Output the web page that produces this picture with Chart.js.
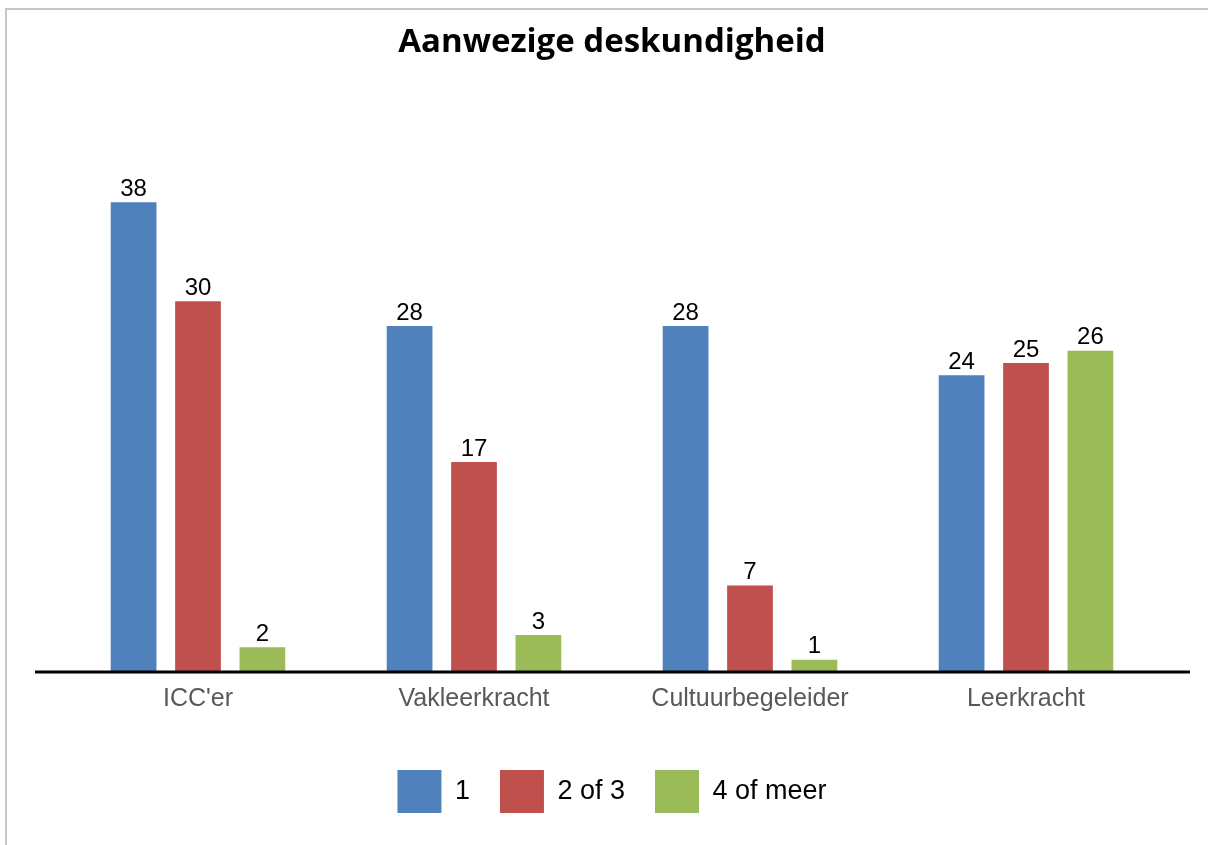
<!DOCTYPE html>
<html lang="nl">
<head>
    <meta charset="UTF-8">
    <title>Aanwezige deskundigheid</title>
    <script src="https://cdn.jsdelivr.net/npm/chart.js"></script>
    <style>
        html, body {
            margin: 0;
            padding: 0;
            background: #ffffff;
        }
        .frame {
            position: absolute;
            left: 5px;
            top: 8px;
            width: 1203px;
            height: 837px;
            border-left: 2px solid #c6c6c6;
            border-top: 2px solid #c6c6c6;
            box-sizing: border-box;
        }
        .chart-container {
            position: absolute;
            left: 0;
            top: 0;
            width: 1208px;
            height: 845px;
        }
    </style>
</head>
<body>
    <div class="frame"></div>
    <div class="chart-container">
        <canvas id="skillChart" width="1208" height="845"></canvas>
    </div>
    <script>
        const categories = ["ICC'er", 'Vakleerkracht', 'Cultuurbegeleider', 'Leerkracht'];
        const seriesNames = ['1', '2 of 3', '4 of meer'];
        const oneValues = [38, 28, 28, 24];
        const twoOrThreeValues = [30, 17, 7, 25];
        const fourOrMoreValues = [2, 3, 1, 26];

        const colors = ['#4f81bd', '#c0504d', '#9bbb59'];

        // value above each bar
        const valueLabels = {
            id: 'valueLabels',
            afterDatasetsDraw(chart) {
                const ctx = chart.ctx;
                ctx.save();
                ctx.font = '24px "Liberation Sans", Arial, sans-serif';
                ctx.fillStyle = '#000000';
                ctx.textAlign = 'center';
                ctx.textBaseline = 'bottom';
                chart.data.datasets.forEach((ds, i) => {
                    chart.getDatasetMeta(i).data.forEach((bar, j) => {
                        ctx.fillText(ds.data[j], bar.x, bar.y - 1);
                    });
                });
                ctx.restore();
            }
        };

        // black baseline, a little wider than the category area
        const baseLine = {
            id: 'baseLine',
            afterDatasetsDraw(chart) {
                const area = chart.chartArea;
                const ctx = chart.ctx;
                ctx.save();
                ctx.strokeStyle = '#000000';
                ctx.lineWidth = 3;
                ctx.beginPath();
                ctx.moveTo(area.left - 25, area.bottom);
                ctx.lineTo(area.right + 26, area.bottom);
                ctx.stroke();
                ctx.restore();
            }
        };

        const ctx = document.getElementById('skillChart').getContext('2d');
        new Chart(ctx, {
            type: 'bar',
            data: {
                labels: categories,
                datasets: [
                    { label: seriesNames[0], data: oneValues, backgroundColor: colors[0] },
                    { label: seriesNames[1], data: twoOrThreeValues, backgroundColor: colors[1] },
                    { label: seriesNames[2], data: fourOrMoreValues, backgroundColor: colors[2] }
                ]
            },
            options: {
                responsive: false,
                animation: false,
                layout: {
                    padding: { left: 60, right: 44, top: 0, bottom: 22 }
                },
                datasets: {
                    bar: {
                        categoryPercentage: 0.70,
                        barPercentage: 0.71
                    }
                },
                scales: {
                    x: {
                        grid: { display: false, drawTicks: false },
                        border: { display: false },
                        ticks: {
                            color: '#595959',
                            padding: 12,
                            font: { family: '"Liberation Sans", Arial, sans-serif', size: 25 }
                        },
                        afterFit(scale) {
                            scale.height = 68;
                        }
                    },
                    y: {
                        display: false,
                        min: 0,
                        max: 40
                    }
                },
                plugins: {
                    title: {
                        display: true,
                        text: 'Aanwezige deskundigheid',
                        color: '#000000',
                        font: { family: '"Open Sans", sans-serif', size: 33, weight: 'bold', lineHeight: 1.2 },
                        padding: { top: 23, bottom: 115 }
                    },
                    legend: {
                        position: 'bottom',
                        labels: {
                            boxWidth: 44,
                            boxHeight: 43,
                            padding: 30,
                            color: '#000000',
                            font: { family: '"Liberation Sans", Arial, sans-serif', size: 27 }
                        }
                    },
                    tooltip: { enabled: false }
                }
            },
            plugins: [valueLabels, baseLine]
        });
    </script>
</body>
</html>
